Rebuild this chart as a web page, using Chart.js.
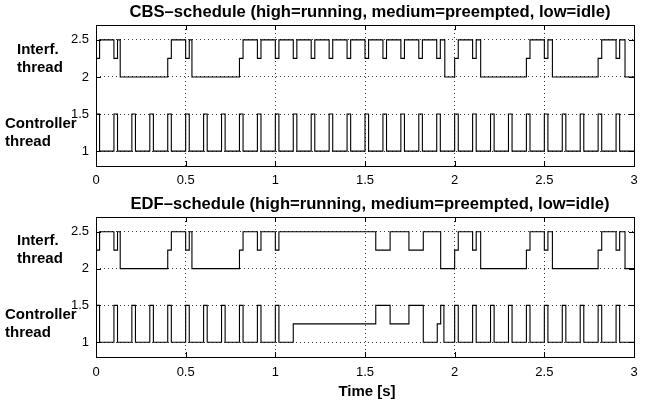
<!DOCTYPE html>
<html>
<head>
<meta charset="utf-8">
<script src="https://cdn.jsdelivr.net/npm/chart.js@4.4.0/dist/chart.umd.min.js"></script>
<style>
  html, body { margin: 0; padding: 0; background: #fff; }
  #wrap { position: relative; width: 654px; height: 406px; }
  canvas { position: absolute; left: 0; }
</style>
</head>
<body>
<div id="wrap">
  <canvas id="cbsChart" width="654" height="192" style="top:0"></canvas>
  <canvas id="edfChart" width="654" height="214" style="top:192px"></canvas>
</div>
<script>
// Axis ticks
const xTicks = [0, 0.5, 1, 1.5, 2, 2.5, 3];
const yTicks = [1, 1.5, 2, 2.5];

// Levels: interf 2.5 running / 2.25 preempted / 2 idle, controller 1.5 / 1.25 / 1
// each level holds from its time until the next time
// CBS schedule
const cbsInterfT = [0, 0.02, 0.1, 0.12, 0.135, 0.4, 0.42, 0.5, 0.52, 0.535, 0.8, 0.82, 0.9, 0.92, 1.0, 1.02,
  1.1, 1.12, 1.2, 1.22, 1.3, 1.32, 1.4, 1.42, 1.5, 1.52, 1.6, 1.62, 1.7, 1.72, 1.8, 1.82, 1.9, 1.92, 1.945,
  2.0, 2.02, 2.1, 2.12, 2.145, 2.4, 2.42, 2.5, 2.52, 2.545, 2.8, 2.82, 2.9, 2.92, 2.95, 3.0];
const cbsInterfY = [2.25, 2.5, 2.25, 2.5, 2, 2.25, 2.5, 2.25, 2.5, 2, 2.25, 2.5, 2.25, 2.5, 2.25, 2.5,
  2.25, 2.5, 2.25, 2.5, 2.25, 2.5, 2.25, 2.5, 2.25, 2.5, 2.25, 2.5, 2.25, 2.5, 2.25, 2.5, 2.25, 2.5, 2,
  2.25, 2.5, 2.25, 2.5, 2, 2.25, 2.5, 2.25, 2.5, 2, 2.25, 2.5, 2.25, 2.5, 2, 2];

const cbsCtrlT = [0, 0.02, 0.1, 0.12, 0.2, 0.22, 0.3, 0.32, 0.4, 0.42, 0.5, 0.52, 0.6, 0.62, 0.7, 0.72,
  0.8, 0.82, 0.9, 0.92, 1.0, 1.02, 1.1, 1.12, 1.2, 1.22, 1.3, 1.32, 1.4, 1.42, 1.5, 1.52, 1.6, 1.62,
  1.7, 1.72, 1.8, 1.82, 1.9, 1.92, 2.0, 2.02, 2.1, 2.12, 2.2, 2.22, 2.3, 2.32, 2.4, 2.42, 2.5, 2.52,
  2.6, 2.62, 2.7, 2.72, 2.8, 2.82, 2.9, 2.92, 3.0];
const cbsCtrlY = [1.5, 1, 1.5, 1, 1.5, 1, 1.5, 1, 1.5, 1, 1.5, 1, 1.5, 1, 1.5, 1,
  1.5, 1, 1.5, 1, 1.5, 1, 1.5, 1, 1.5, 1, 1.5, 1, 1.5, 1, 1.5, 1, 1.5, 1,
  1.5, 1, 1.5, 1, 1.5, 1, 1.5, 1, 1.5, 1, 1.5, 1, 1.5, 1, 1.5, 1, 1.5, 1,
  1.5, 1, 1.5, 1, 1.5, 1, 1.5, 1, 1];

// EDF schedule
const edfInterfT = [0, 0.02, 0.1, 0.12, 0.135, 0.4, 0.42, 0.5, 0.52, 0.535, 0.8, 0.82, 0.9, 0.92, 1.0, 1.02,
  1.56, 1.64, 1.745, 1.825, 1.922, 2.0, 2.02, 2.1, 2.12, 2.145, 2.4, 2.42, 2.5, 2.52, 2.545,
  2.8, 2.82, 2.9, 2.92, 2.95, 3.0];
const edfInterfY = [2.25, 2.5, 2.25, 2.5, 2, 2.25, 2.5, 2.25, 2.5, 2, 2.25, 2.5, 2.25, 2.5, 2.25, 2.5,
  2.25, 2.5, 2.25, 2.5, 2, 2.25, 2.5, 2.25, 2.5, 2, 2.25, 2.5, 2.25, 2.5, 2,
  2.25, 2.5, 2.25, 2.5, 2, 2];

const edfCtrlT = [0, 0.02, 0.1, 0.12, 0.2, 0.22, 0.3, 0.32, 0.4, 0.42, 0.5, 0.52, 0.6, 0.62, 0.7, 0.72,
  0.8, 0.82, 0.9, 0.92, 1.0, 1.02, 1.1, 1.56, 1.64, 1.745, 1.825, 1.903, 1.922, 1.94,
  2.0, 2.02, 2.1, 2.12, 2.2, 2.22, 2.3, 2.32, 2.4, 2.42, 2.5, 2.52, 2.6, 2.62, 2.7, 2.72,
  2.8, 2.82, 2.9, 2.92, 3.0];
const edfCtrlY = [1.5, 1, 1.5, 1, 1.5, 1, 1.5, 1, 1.5, 1, 1.5, 1, 1.5, 1, 1.5, 1,
  1.5, 1, 1.5, 1, 1.5, 1, 1.25, 1.5, 1.25, 1.5, 1, 1.25, 1.5, 1,
  1.5, 1, 1.5, 1, 1.5, 1, 1.5, 1, 1.5, 1, 1.5, 1, 1.5, 1, 1.5, 1,
  1.5, 1, 1.5, 1, 1];

const FONT = '"Liberation Sans", Arial, Helvetica, sans-serif';

function toPoints(ts, ys) {
    return ts.map((t, i) => ({ x: t, y: ys[i] }));
}

// box, inner tick marks and text labels (MATLAB look)
const boxPlugin = {
    id: 'boxPlugin',
    afterDraw(chart, args, opts) {
        const ctx = chart.ctx;
        const a = chart.chartArea;
        const xs = chart.scales.x, ys = chart.scales.y;
        ctx.save();
        ctx.strokeStyle = '#000';
        ctx.lineWidth = 1;
        ctx.strokeRect(Math.round(a.left) + 0.5, Math.round(a.top) + 0.5,
            Math.round(a.right - a.left), Math.round(a.bottom - a.top));
        ctx.beginPath();
        xTicks.forEach(v => {
            const px = Math.round(xs.getPixelForValue(v)) + 0.5;
            ctx.moveTo(px, a.bottom); ctx.lineTo(px, a.bottom - 5);
            ctx.moveTo(px, a.top); ctx.lineTo(px, a.top + 5);
        });
        yTicks.forEach(v => {
            const py = Math.round(ys.getPixelForValue(v)) + 0.5;
            ctx.moveTo(a.left, py); ctx.lineTo(a.left + 5, py);
            ctx.moveTo(a.right, py); ctx.lineTo(a.right - 5, py);
        });
        ctx.stroke();

        ctx.fillStyle = '#000';
        ctx.textBaseline = 'middle';
        ctx.textAlign = 'center';
        ctx.font = 'bold 16.6px ' + FONT;
        ctx.fillText(opts.title, (a.left + a.right) / 2 + 5, a.top - 13);

        ctx.textAlign = 'left';
        ctx.font = 'bold 15px ' + FONT;
        const yi = ys.getPixelForValue(2.25);
        ctx.fillText('Interf.', 17, yi - 9);
        ctx.fillText('thread', 17, yi + 9);
        const yc = ys.getPixelForValue(1.25);
        ctx.fillText('Controller', 5, yc - 9);
        ctx.fillText('thread', 5, yc + 9);

        if (opts.xTitle) {
            ctx.textAlign = 'center';
            ctx.font = 'bold 15px ' + FONT;
            ctx.fillText(opts.xTitle, (a.left + a.right) / 2 + 2, a.bottom + 35);
        }
        ctx.restore();
    }
};

function makeChart(id, title, xTitle, interfT, interfY, ctrlT, ctrlY, xAxisHeight, tickPad) {
    const ctx = document.getElementById(id).getContext('2d');
    return new Chart(ctx, {
        type: 'line',
        data: {
            datasets: [
                {
                    label: 'Interf. thread',
                    data: toPoints(interfT, interfY),
                    borderColor: '#000',
                    borderWidth: 1.1,
                    pointRadius: 0,
                    stepped: 'before',
                    fill: false
                },
                {
                    label: 'Controller thread',
                    data: toPoints(ctrlT, ctrlY),
                    borderColor: '#000',
                    borderWidth: 1.1,
                    pointRadius: 0,
                    stepped: 'before',
                    fill: false
                }
            ]
        },
        options: {
            responsive: false,
            animation: false,
            layout: { padding: { top: 25, left: 0, right: 20, bottom: 0 } },
            plugins: {
                legend: { display: false },
                tooltip: { enabled: false },
                title: { display: false },
                boxPlugin: { title: title, xTitle: xTitle }
            },
            scales: {
                x: {
                    type: 'linear',
                    min: 0,
                    max: 3,
                    afterBuildTicks: (scale) => { scale.ticks = xTicks.map(v => ({ value: v })); },
                    afterFit: (scale) => { scale.height = xAxisHeight; },
                    ticks: {
                        color: '#000', padding: tickPad, maxRotation: 0,
                        font: { family: FONT, size: 13 },
                        callback: (v) => String(v)
                    },
                    grid: { color: 'rgba(0,0,0,0.8)', lineWidth: 1, drawTicks: false },
                    border: { display: false, dash: [1, 3] }
                },
                y: {
                    min: 0.8,
                    max: 2.7,
                    afterBuildTicks: (scale) => { scale.ticks = yTicks.map(v => ({ value: v })); },
                    afterFit: (scale) => { scale.width = 96; },
                    ticks: {
                        color: '#000', padding: 7,
                        font: { family: FONT, size: 13 },
                        callback: (v) => String(v)
                    },
                    grid: { color: 'rgba(0,0,0,0.8)', lineWidth: 1, drawTicks: false },
                    border: { display: false, dash: [1, 3] }
                }
            }
        },
        plugins: [boxPlugin]
    });
}

makeChart('cbsChart', 'CBS\u2013schedule (high=running, medium=preempted, low=idle)', null,
    cbsInterfT, cbsInterfY, cbsCtrlT, cbsCtrlY, 26, 7);
makeChart('edfChart', 'EDF\u2013schedule (high=running, medium=preempted, low=idle)', 'Time [s]',
    edfInterfT, edfInterfY, edfCtrlT, edfCtrlY, 49, 8);
</script>
</body>
</html>
